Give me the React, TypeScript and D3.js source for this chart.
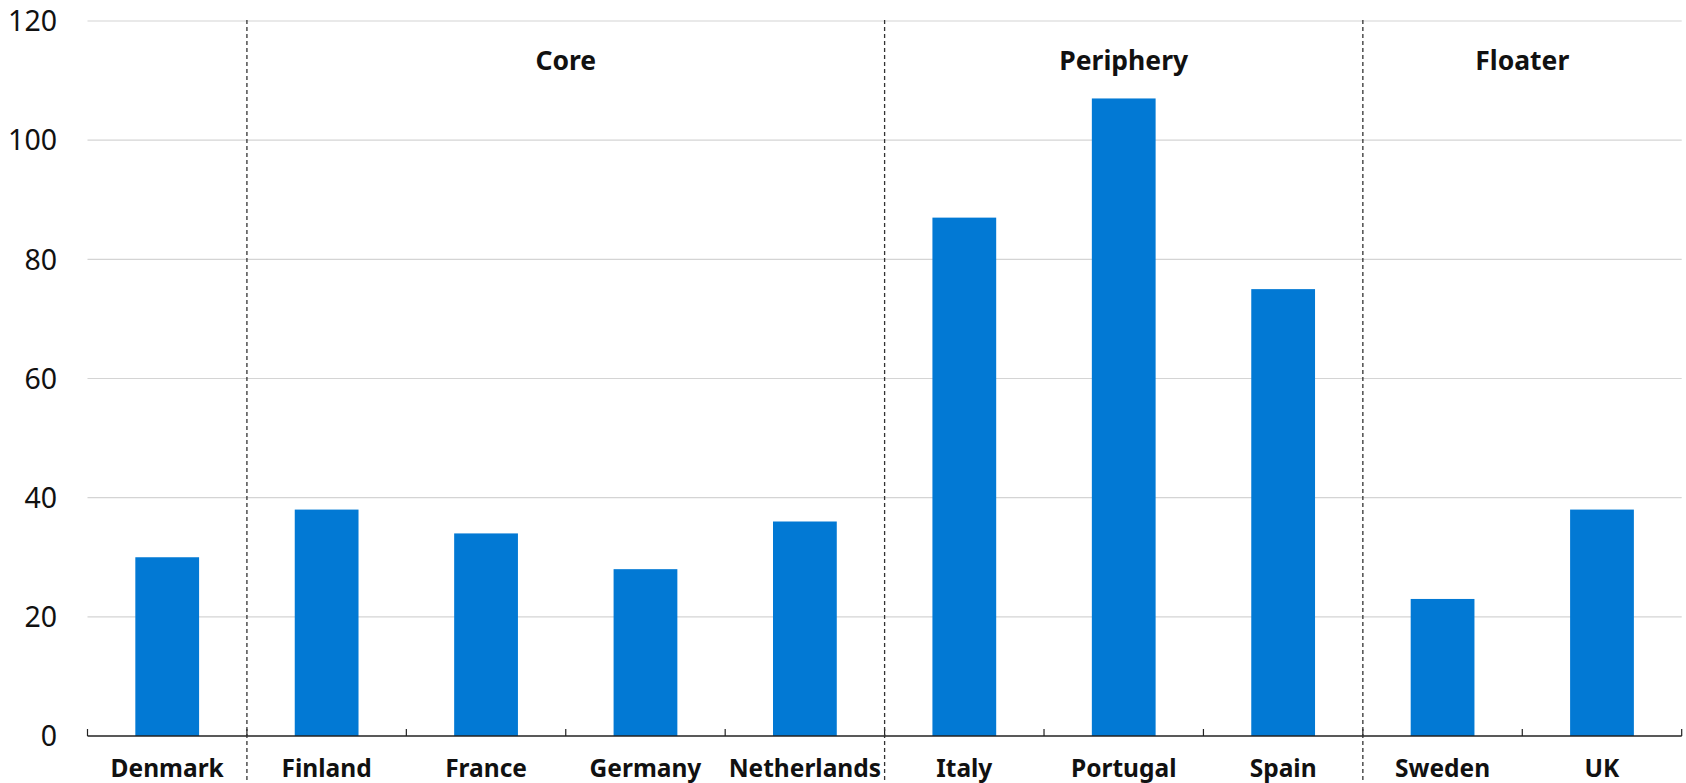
import React from "react";
import * as d3 from "d3";

// Country values
const countries = [
  "Denmark",
  "Finland",
  "France",
  "Germany",
  "Netherlands",
  "Italy",
  "Portugal",
  "Spain",
  "Sweden",
  "UK",
];
const values = [30, 38, 34, 28, 36, 87, 107, 75, 23, 38];

// Country groups: name, first and last member
const groupNames = ["Core", "Periphery", "Floater"];
const groupStart = ["Finland", "Italy", "Sweden"];
const groupEnd = ["Netherlands", "Spain", "UK"];

const yTicks = [0, 20, 40, 60, 80, 100, 120];

const W = 1686;
const H = 783;
const left = 87.5;
const right = 1681.7;
const top = 21;
const bottom = 736;

const FONT = "'Noto Sans', 'DejaVu Sans', sans-serif";
const BLUE = "#0279d4";

export default function App() {
  const x = d3
    .scaleBand<string>()
    .domain(countries)
    .range([left, right])
    .paddingInner(0.6)
    .paddingOuter(0.3);
  const step = x.step();
  const slot = (c: string) => (x(c) as number) - step * 0.3;
  const y = d3.scaleLinear().domain([0, 120]).range([bottom, top]);

  // separator lines before the first member of each group
  const separators = groupStart.map((c) => slot(c));

  return (
    <div style={{ position: "absolute", left: 0, top: 0 }}>
      <svg width={W} height={H} style={{ display: "block", background: "#fff" }}>
        {/* horizontal gridlines */}
        {yTicks
          .filter((t) => t > 0)
          .map((t) => (
            <line
              key={"g" + t}
              x1={left}
              x2={right}
              y1={y(t)}
              y2={y(t)}
              stroke="#d4d4d4"
              strokeWidth={1.2}
            />
          ))}
        {/* y tick labels */}
        {yTicks.map((t) => (
          <text
            key={"t" + t}
            x={57}
            y={y(t)}
            dy="0.36em"
            textAnchor="end"
            fontFamily={FONT}
            fontSize={28.5}
            fill="#111"
          >
            {t}
          </text>
        ))}
        {/* bars */}
        {countries.map((c, i) => (
          <rect
            key={c}
            x={x(c)}
            y={y(values[i])}
            width={x.bandwidth()}
            height={y(0) - y(values[i])}
            fill={BLUE}
          />
        ))}
        {/* x axis and category ticks */}
        <line x1={left} x2={right} y1={bottom} y2={bottom} stroke="#222" strokeWidth={1.5} />
        {countries.map((c) => (
          <line
            key={"xt" + c}
            x1={slot(c)}
            x2={slot(c)}
            y1={bottom}
            y2={bottom - 7}
            stroke="#222"
            strokeWidth={1.2}
          />
        ))}
        <line x1={right} x2={right} y1={bottom} y2={bottom - 7} stroke="#222" strokeWidth={1.2} />
        {/* group separators */}
        {separators.map((sx, i) => (
          <line
            key={"sep" + i}
            x1={sx}
            x2={sx}
            y1={top - 1}
            y2={H}
            stroke="#333"
            strokeWidth={1.3}
            strokeDasharray="4,3"
          />
        ))}
        {/* group labels */}
        {groupNames.map((g, i) => {
          const x0 = slot(groupStart[i]);
          const x1 = slot(groupEnd[i]) + step;
          return (
            <text
              key={g}
              x={(x0 + x1) / 2}
              y={70}
              textAnchor="middle"
              fontFamily={FONT}
              fontWeight="bold"
              fontSize={26.5}
              fill="#111"
            >
              {g}
            </text>
          );
        })}
        {/* category labels */}
        {countries.map((c) => (
          <text
            key={"l" + c}
            x={(x(c) as number) + x.bandwidth() / 2}
            y={777}
            textAnchor="middle"
            fontFamily={FONT}
            fontWeight="bold"
            fontSize={24.5}
            fill="#111"
          >
            {c}
          </text>
        ))}
      </svg>
    </div>
  );
}
